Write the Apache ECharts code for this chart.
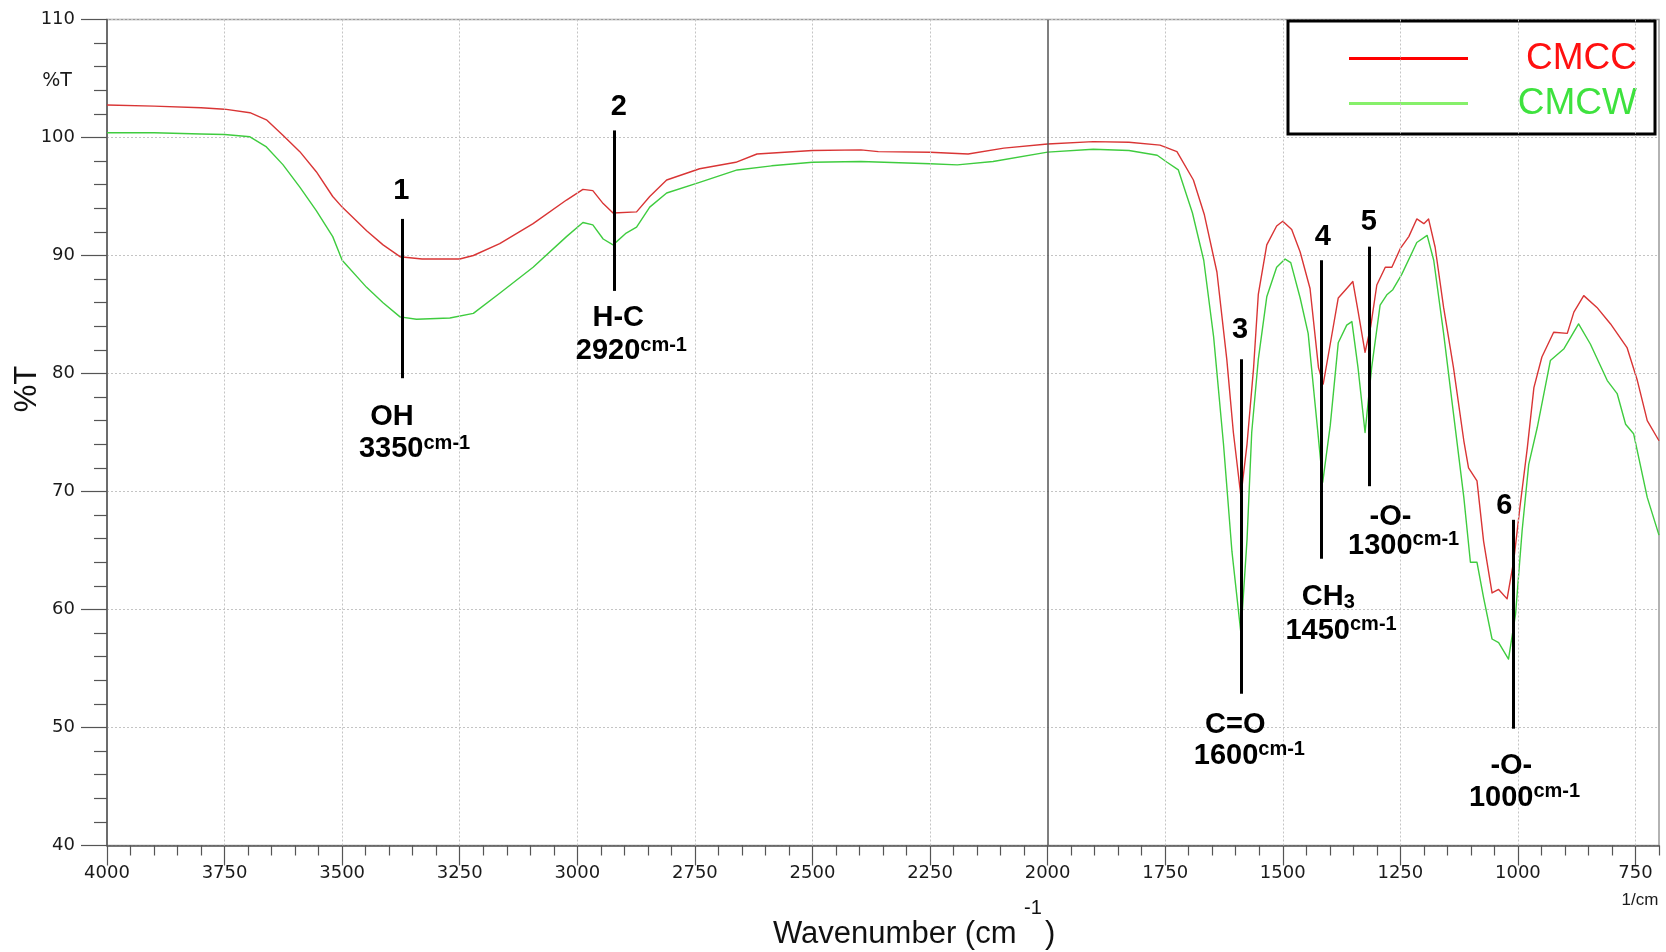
<!DOCTYPE html>
<html>
<head>
<meta charset="utf-8">
<title>FTIR CMCC / CMCW</title>
<script src="https://cdn.jsdelivr.net/npm/echarts@6.0.0/dist/echarts.min.js"></script>
<style>
  html, body { margin: 0; padding: 0; background: #fff; }
  #chart { width: 1666px; height: 952px; }
</style>
</head>
<body>
<div id="chart"></div>
<script>
// spectra: wavenumber (cm-1) and %T
const cmccWn = [4000, 3900, 3800, 3750, 3696, 3661, 3626, 3590, 3555, 3520, 3500, 3448, 3413, 3377, 3330,
  3250, 3221, 3165, 3094, 3023, 2988, 2967, 2945, 2924, 2874, 2846, 2810, 2740, 2663, 2618,
  2500, 2397, 2360, 2250, 2169, 2093, 2000, 1903, 1827, 1761, 1725, 1690, 1667, 1640, 1619,
  1605, 1589, 1576, 1562, 1552, 1534, 1513, 1500, 1481, 1463, 1442, 1424, 1414, 1399, 1382,
  1364, 1351, 1340, 1325, 1313, 1300, 1282, 1268, 1250, 1232, 1215, 1200, 1190, 1176, 1158,
  1137, 1115, 1105, 1087, 1073, 1055, 1041, 1023, 1009, 995, 980, 966, 949, 924, 895,
  881, 860, 832, 803, 768, 746, 725, 700];
const cmccT = [102.75, 102.66, 102.52, 102.4, 102.1, 101.5, 100.2, 98.8, 97.1, 95.0, 94.1, 92.1, 90.9, 89.9, 89.7,
  89.7, 90.0, 91.0, 92.7, 94.7, 95.6, 95.5, 94.4, 93.6, 93.7, 95.0, 96.4, 97.35, 97.9, 98.6,
  98.9, 98.95, 98.8, 98.75, 98.6, 99.1, 99.45, 99.65, 99.6, 99.35, 98.8, 96.4, 93.5, 88.6, 81.2,
  75.0, 69.6, 74.0, 80.5, 86.7, 90.9, 92.5, 92.9, 92.2, 90.3, 87.2, 80.5, 79.1, 82.5, 86.4,
  87.2, 87.8, 85.3, 81.8, 84.0, 87.5, 89.0, 89.0, 90.6, 91.6, 93.1, 92.7, 93.1, 90.7, 85.6,
  80.5, 74.3, 72.0, 70.9, 65.8, 61.4, 61.7, 60.9, 64.1, 68.9, 73.7, 78.8, 81.4, 83.5, 83.4,
  85.2, 86.6, 85.6, 84.2, 82.2, 79.4, 76.0, 74.3];

const cmcwWn = [4000, 3900, 3800, 3750, 3696, 3661, 3626, 3590, 3555, 3520, 3500, 3448, 3413, 3377, 3342,
  3271, 3221, 3165, 3094, 3023, 2988, 2967, 2945, 2924, 2896, 2874, 2846, 2810, 2740, 2660,
  2587, 2500, 2397, 2250, 2192, 2116, 2000, 1903, 1827, 1767, 1746, 1722, 1692, 1668, 1647,
  1626, 1608, 1589, 1576, 1566, 1552, 1534, 1513, 1495, 1483, 1463, 1446, 1431, 1415, 1399,
  1382, 1364, 1353, 1340, 1325, 1311, 1293, 1278, 1266, 1247, 1215, 1193, 1179, 1158, 1137,
  1115, 1101, 1087, 1073, 1055, 1041, 1020, 1005, 991, 977, 959, 931, 902, 871, 846,
  810, 789, 771, 754, 725, 700];
const cmcwT = [100.4, 100.4, 100.3, 100.26, 100.06, 99.2, 97.7, 95.8, 93.8, 91.6, 89.6, 87.3, 86.0, 84.8, 84.6,
  84.7, 85.1, 86.8, 89.0, 91.6, 92.8, 92.6, 91.4, 90.9, 91.9, 92.4, 94.1, 95.3, 96.2, 97.25,
  97.6, 97.9, 97.97, 97.77, 97.68, 97.97, 98.76, 99.0, 98.9, 98.5, 97.9, 97.25, 93.6, 89.6, 83.1,
  74.0, 64.9, 58.0, 65.9, 75.0, 81.2, 86.5, 89.0, 89.7, 89.4, 86.4, 83.4, 77.3, 70.8, 75.6,
  82.6, 84.1, 84.4, 80.5, 75.0, 80.5, 85.8, 86.7, 87.1, 88.4, 91.1, 91.7, 89.6, 83.4, 76.6,
  69.5, 64.0, 64.0, 61.0, 57.5, 57.2, 55.8, 59.6, 66.7, 72.3, 75.4, 81.1, 82.1, 84.2, 82.5,
  79.4, 78.3, 75.7, 74.9, 69.5, 66.3];

// axis ticks
const xTicks = [750, 1000, 1250, 1500, 1750, 2000, 2250, 2500, 2750, 3000, 3250, 3500, 3750, 4000];
const xMinorTicks = [];
for (let v = 700; v <= 4000; v += 50) {
  if (v % 250 !== 0) xMinorTicks.push(v);
}

// peak marker lines: wavenumber, top and bottom %T
const peakWn = [3372, 2922, 1589, 1419, 1316, 1010];
const peakTop = [93.1, 100.6, 81.2, 89.6, 90.75, 67.6];
const peakBottom = [79.6, 87.0, 52.85, 64.3, 70.45, 49.9];

// peak notes: wavenumber, %T, text
const noteWn = [3374, 3394, 3346, 2912, 2913, 2885, 1591, 1601, 1571, 1415, 1403, 1376, 1317, 1271, 1243, 1029, 1014, 986];
const noteT = [95.5, 76.3, 73.6, 102.6, 84.7, 81.9, 83.7, 50.25, 47.6, 91.6, 61.1, 58.2, 92.8, 67.85, 65.4, 68.8, 46.75, 44.05];
const noteText = [
  '{big|1}', '{big|OH}', '{big|3350}{sup|cm-1}',
  '{big|2}', '{big|H-C}', '{big|2920}{sup|cm-1}',
  '{big|3}', '{big|C=O}', '{big|1600}{sup|cm-1}',
  '{big|4}', '{big|CH}{sub|3}', '{big|1450}{sup|cm-1}',
  '{big|5}', '{big|-O-}', '{big|1300}{sup|cm-1}',
  '{big|6}', '{big|-O-}', '{big|1000}{sup|cm-1}'
];

const gridWn = [750, 1000, 1250, 1500, 1750, 2250, 2500, 2750, 3000, 3250, 3500, 3750];

const pair = (xs, ys) => xs.map((x, i) => [x, ys[i]]);

const chart = echarts.init(document.getElementById('chart'));

const boldFont = '"Liberation Sans", Arial, sans-serif';

const option = {
  animation: false,
  backgroundColor: '#fff',
  grid: {
    left: 107, right: 7, top: 19.5, bottom: 106.5,
    show: true, borderColor: '#9a9a9a', borderWidth: 1.5,
  },
  legend: {
    orient: 'vertical',
    left: 1288, top: 21,
    padding: [19, 18, 12, 61],
    borderColor: '#000', borderWidth: 3,
    backgroundColor: '#fff',
    icon: 'rect',
    itemWidth: 119, itemHeight: 3, itemGap: 8,
    selectedMode: false,
    formatter: (name) => (name === 'CMCC' ? '{r|' + name + '}' : '{g|' + name + '}'),
    textStyle: {
      rich: {
        r: { width: 164, align: 'right', fontSize: 37, lineHeight: 40, fontFamily: boldFont, color: '#ff1010' },
        g: { width: 164, align: 'right', fontSize: 37, lineHeight: 40, fontFamily: boldFont, color: '#3ee23e' },
      },
    },
    data: [
      { name: 'CMCC', itemStyle: { color: '#ff0000' } },
      { name: 'CMCW', itemStyle: { color: '#86f06a' } },
    ],
  },
  xAxis: [{
    type: 'value', min: 700, max: 4000, inverse: true, position: 'bottom',
    axisLine: { show: true, onZero: false, lineStyle: { color: '#555', width: 1.5 } },
    axisTick: { show: true, length: 20, customValues: xTicks, lineStyle: { color: '#555', width: 1.2 } },
    axisLabel: {
      customValues: xTicks, margin: 19, fontSize: 18, fontFamily: 'DejaVu Sans', color: '#1a1a1a',
      formatter: (v) => String(v),
    },
    splitLine: { show: false },
  }, {
    type: 'value', min: 700, max: 4000, inverse: true, position: 'bottom',
    axisLine: { show: false, onZero: false },
    axisTick: { show: true, length: 10, customValues: xMinorTicks, lineStyle: { color: '#555', width: 1.2 } },
    axisLabel: { show: false },
    splitLine: { show: false },
  }],
  yAxis: {
    type: 'value', min: 40, max: 110, interval: 10,
    axisLine: { show: true, lineStyle: { color: '#555', width: 1.5 } },
    axisTick: { show: true, length: 26, lineStyle: { color: '#555', width: 1.2 } },
    minorTick: { show: true, splitNumber: 5, length: 13, lineStyle: { color: '#555', width: 1.2 } },
    axisLabel: { margin: 32, fontSize: 18, fontFamily: 'DejaVu Sans', color: '#1a1a1a' },
    splitLine: { show: true, lineStyle: { color: '#c4c4c4', type: [2, 2], width: 1 } },
  },
  series: [
    {
      name: 'gridlines', type: 'line', data: [], z: 1, silent: true,
      markLine: {
        silent: true, symbol: ['none', 'none'], label: { show: false }, animation: false,
        data: gridWn.map(v => ({ xAxis: v, lineStyle: { color: '#c4c4c4', type: [2, 2], width: 1 } }))
          .concat([{ xAxis: 2000, lineStyle: { color: '#555', type: 'solid', width: 1.5 } }]),
      },
    },
    {
      name: 'CMCC', type: 'line', data: pair(cmccWn, cmccT), symbol: 'none', z: 3,
      lineStyle: { color: '#d93535', width: 1.4, join: 'round' }, itemStyle: { color: '#d93535' },
    },
    {
      name: 'CMCW', type: 'line', data: pair(cmcwWn, cmcwT), symbol: 'none', z: 3,
      lineStyle: { color: '#3fcc3f', width: 1.4, join: 'round' }, itemStyle: { color: '#3fcc3f' },
    },
    {
      name: 'notes', type: 'line', data: [], z: 5, silent: true,
      markLine: {
        silent: true, symbol: ['none', 'none'], label: { show: false }, animation: false,
        lineStyle: { color: '#000', type: 'solid', width: 3 },
        data: peakWn.map((w, i) => [{ coord: [w, peakTop[i]] }, { coord: [w, peakBottom[i]] }]),
      },
      markPoint: {
        silent: true, symbol: 'circle', symbolSize: 1, animation: false,
        itemStyle: { color: 'rgba(0,0,0,0)' },
        label: {
          show: true, position: 'inside',
          formatter: (p) => noteText[p.dataIndex],
          rich: {
            big: { fontSize: 29, fontWeight: 'bold', fontFamily: boldFont, color: '#000', lineHeight: 32 },
            sup: { fontSize: 20, fontWeight: 'bold', fontFamily: boldFont, color: '#000', lineHeight: 22, verticalAlign: 'top' },
            sub: { fontSize: 20, fontWeight: 'bold', fontFamily: boldFont, color: '#000', lineHeight: 22, verticalAlign: 'bottom' },
          },
        },
        data: noteWn.map((w, i) => ({ coord: [w, noteT[i]] })),
      },
    },
  ],
  graphic: [
    { type: 'text', x: 57, y: 81, style: { text: '%T', fill: '#1a1a1a', font: '19px "DejaVu Sans"', align: 'center', verticalAlign: 'middle' } },
    { type: 'text', x: 27, y: 389, rotation: Math.PI / 2, style: { text: '%T', fill: '#111', font: '31px "Liberation Sans"', align: 'center', verticalAlign: 'middle' } },
    { type: 'text', x: 773, y: 934, style: { text: 'Wavenumber (cm', fill: '#111', font: '31px "Liberation Sans"', align: 'left', verticalAlign: 'middle' } },
    { type: 'text', x: 1033, y: 908, style: { text: '-1', fill: '#111', font: '20px "Liberation Sans"', align: 'center', verticalAlign: 'middle' } },
    { type: 'text', x: 1045, y: 934, style: { text: ')', fill: '#111', font: '31px "Liberation Sans"', align: 'left', verticalAlign: 'middle' } },
    { type: 'text', x: 1640, y: 900, style: { text: '1/cm', fill: '#1a1a1a', font: '17px "Liberation Sans"', align: 'center', verticalAlign: 'middle' } },
  ],
};

chart.setOption(option);
</script>
</body>
</html>
